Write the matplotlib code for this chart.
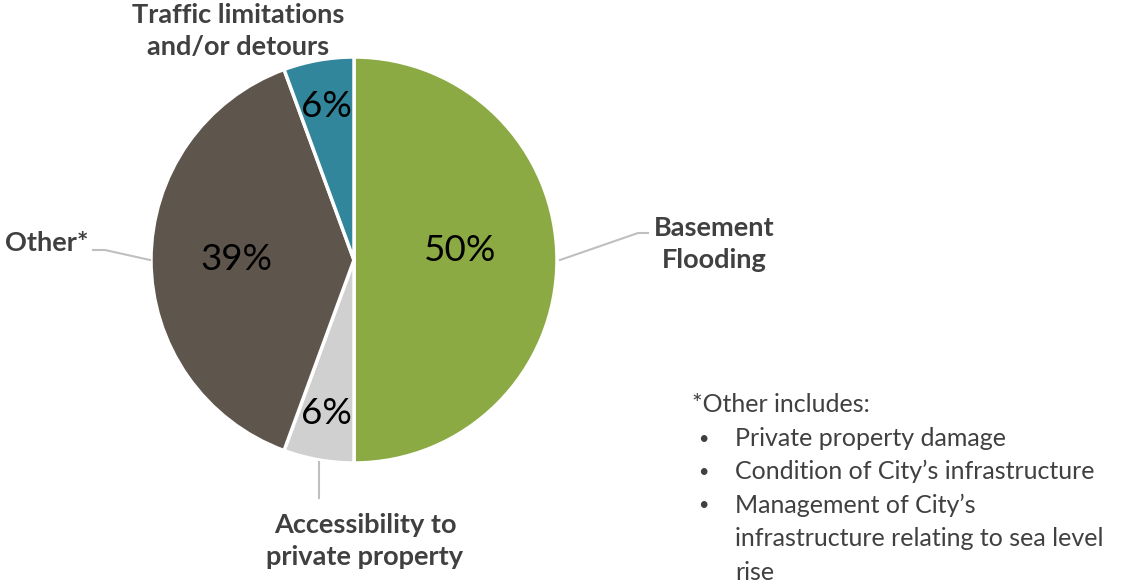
import numpy as np
import matplotlib
matplotlib.use("Agg")
import matplotlib.pyplot as plt

W, H = 1121, 585

categories = ["Basement\nFlooding", "Accessibility to\nprivate property", "Other*",
              "Traffic limitations\nand/or detours"]
values = [50.0, 5.6, 38.8, 5.6]
colors = ["#8BAA44", "#D0D0D0", "#5E564C", "#31869B"]
footnote_title = "*Other includes:"
footnote_items = ["Private property damage",
                  "Condition of City\u2019s infrastructure",
                  "Management of City\u2019s\ninfrastructure relating to sea level\nrise"]

FONT = "Lato"
TXT = "#404040"
LINE = "#BFBFBF"

fig = plt.figure(figsize=(W / 100, H / 100), dpi=100)
ax = fig.add_axes([0, 0, 1, 1])

def P(x, y):
    return x, H - y

cx, cy = P(354, 260)
R = 203
wedges, _ = ax.pie(values, colors=colors, startangle=90, counterclock=False,
                   center=(cx, cy), radius=R,
                   wedgeprops=dict(edgecolor="white", linewidth=2.5))
ax.set_xlim(0, W)
ax.set_ylim(0, H)
ax.set_aspect("equal")
ax.axis("off")

# percentage labels: (distance as fraction of radius, angle offset in degrees)
pct_pos = [(0.525, 5.0), (0.77, 0.0), (0.58, 0.0), (0.77, 0.0)]
total = sum(values)
for w, v, (d, off) in zip(wedges, values, pct_pos):
    mid = np.deg2rad((w.theta1 + w.theta2) / 2 + off)
    x = cx + d * R * np.cos(mid)
    y = cy + d * R * np.sin(mid)
    ax.text(x, y, f"{v / total * 100:.0f}%", ha="center", va="center",
            fontsize=26.5, family=FONT, color="black")

# category labels with leader lines
lab_kw = dict(fontsize=19.5, family=FONT, fontweight="bold", color=TXT,
              linespacing=1.4)
ax.text(*P(714, 244), categories[0], ha="center", va="center", **lab_kw)
ax.plot(*zip(P(560, 260), P(638, 233), P(648, 233)), color=LINE, lw=1.5)

ax.text(*P(365, 541), categories[1], ha="center", va="center", **lab_kw)
ax.plot(*zip(P(319, 462), P(319, 498)), color=LINE, lw=1.5)

ax.text(*P(88, 243), categories[2], ha="right", va="center", **lab_kw)
ax.plot(*zip(P(150, 260), P(105, 250), P(93, 250)), color=LINE, lw=1.5)

ax.text(*P(238, 31), categories[3], ha="center", va="center", **lab_kw)

# footnote
fn_kw = dict(fontsize=18, family=FONT, color=TXT)
line_h = 33.5
y0 = 405
ax.text(*P(692, y0), footnote_title, ha="left", va="center", **fn_kw)
row = 1
for item in footnote_items:
    y = y0 + row * line_h
    ax.text(*P(703, y), "\u2022", ha="center", va="center", fontsize=13,
            family=FONT, color=TXT)
    ax.text(*P(735, y - 12), item, ha="left", va="top", linespacing=1.55,
            **fn_kw)
    row += item.count("\n") + 1

fig.savefig("out.png", dpi=100)
